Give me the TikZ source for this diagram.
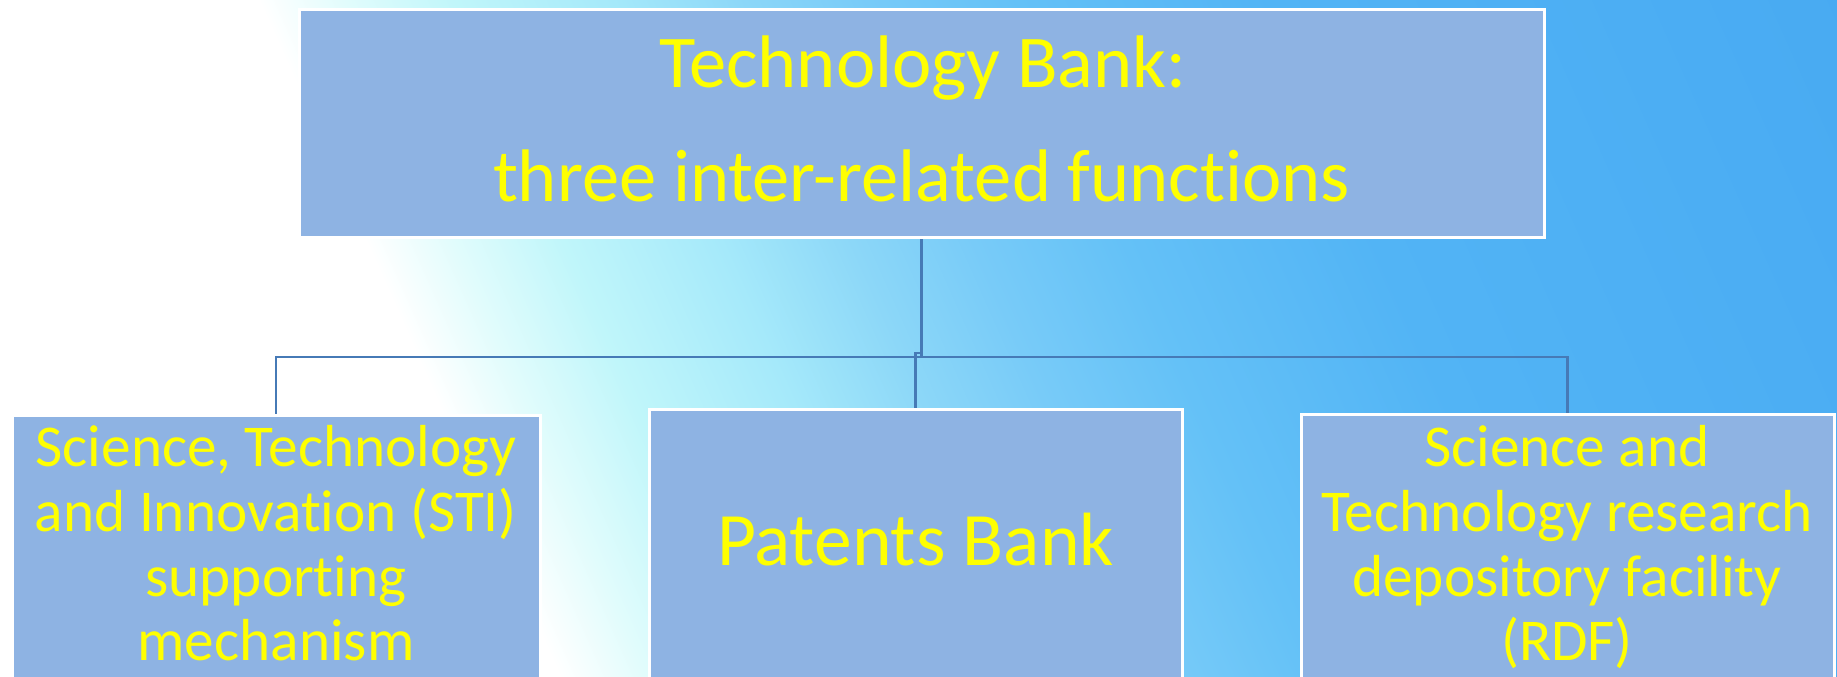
\documentclass[tikz,border=0pt]{standalone}
\usepackage{fontspec}
\setmainfont[Ligatures={NoCommon,NoRare,NoContextual},RawFeature={-liga;-clig;-dlig;-calt;-rlig}]{Carlito}
\newcommand{\nolg}{\kern0pt }
\definecolor{boxfill}{RGB}{142,179,227}
\definecolor{connc}{RGB}{70,122,182}
\definecolor{txt}{RGB}{255,255,0}
\pgfdeclarehorizontalshading{bgshade}{100bp}{%
color(0bp)=(white);
color(25bp)=(white);
color(38.3bp)=(white);
color(40.3bp)=(rgb,255:red,225;green,252;blue,252);
color(42.8bp)=(rgb,255:red,192;green,246;blue,250);
color(46.45bp)=(rgb,255:red,165;green,233;blue,250);
color(49.45bp)=(rgb,255:red,140;green,215;blue,248);
color(52.25bp)=(rgb,255:red,120;green,203;blue,248);
color(55.7bp)=(rgb,255:red,100;green,193;blue,247);
color(61.5bp)=(rgb,255:red,82;green,180;blue,245);
color(75bp)=(rgb,255:red,72;green,170;blue,242);
color(100bp)=(rgb,255:red,72;green,170;blue,242)}
\tikzset{
  box/.style={draw=white, line width=3pt, fill=boxfill, rectangle, inner sep=0pt},
  conn/.style={draw=connc, line width=2.2pt},
  bigtxt/.style={text=txt, inner sep=0pt, anchor=base, font=\fontsize{74.5}{80}\selectfont},
  smtxt/.style={text=txt, inner sep=0pt, anchor=base, font=\fontsize{59.3}{64}\selectfont}
}
\begin{document}
\begin{tikzpicture}[x=1pt,y=-1pt]
\useasboundingbox (0,0) rectangle (1837,677);
\begin{scope}
\clip (0,0) rectangle (1837,677);
\shade[shading=bgshade, shading angle=24] (-81.5,-661.5) rectangle (1918.5,1338.5);
% boxes
\node[box, minimum width=1245pt, minimum height=228pt] (top) at (921.5,123.5) {};
\node[box, minimum width=528pt, minimum height=305pt] (left) at (276,567.5) {};
\node[box, minimum width=533pt, minimum height=311pt] (mid) at (915.5,564.5) {};
\node[box, minimum width=533pt, minimum height=306pt] (right) at (1567.5,567) {};
% connectors
\coordinate (bus) at (921,357);
\coordinate (jog) at (921,353);
\draw[conn] (top.south) -- (top.south |- bus) -| (left.north);
\draw[conn] (top.south) -- (top.south |- bus) -| (right.north);
\draw[conn] (top.south) -- (top.south |- jog) -| (mid.north);
% texts
\node[bigtxt] (t1) at (923,87.7) {Technology Bank:};
\node[bigtxt] (t2) at (921.5,201.7) {three inter-related funct\nolg ions};
\node[smtxt] (l1) at (276,466.6) {Science, Technology};
\node[smtxt] (l2) at (276,531.3) {and Innovat\nolg ion (STI)};
\node[smtxt] (l3) at (276,596) {support\nolg ing};
\node[smtxt] (l4) at (276,660.7) {mechanism};
\node[bigtxt, font=\fontsize{75.5}{80}\selectfont] (m1) at (915.5,565.5) {Patents Bank};
\node[smtxt] (r1) at (1567,466.6) {Science and};
\node[smtxt] (r2) at (1567,531.3) {Technology research};
\node[smtxt] (r3) at (1567,596) {depository facility};
\node[smtxt] (r4) at (1567,660.7) {(RDF)};
\end{scope}
\end{tikzpicture}
\end{document}
